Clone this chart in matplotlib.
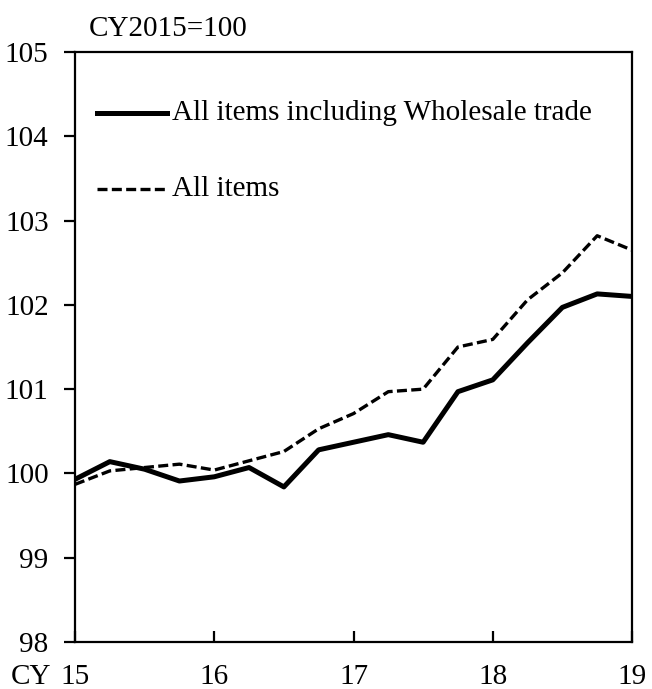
import matplotlib
matplotlib.use("Agg")
import matplotlib.pyplot as plt
from matplotlib.lines import Line2D

plt.rcParams['font.family'] = ['Liberation Serif', 'DejaVu Serif']

# Quarterly index, CY2015 Q1 .. CY2019 Q1 (x in years)
quarters = [2015 + i * 0.25 for i in range(17)]
incl_wholesale = [99.93, 100.14, 100.05, 99.91, 99.96, 100.07, 99.84, 100.28,
                  100.37, 100.46, 100.37, 100.97, 101.11, 101.55, 101.97, 102.13, 102.10]
all_items = [99.87, 100.03, 100.07, 100.11, 100.04, 100.15, 100.26, 100.53,
             100.71, 100.97, 101.00, 101.50, 101.59, 102.06, 102.38, 102.82, 102.65]

year_ticks = [2015, 2016, 2017, 2018, 2019]
year_labels = ["15", "16", "17", "18", "19"]
y_ticks = [98, 99, 100, 101, 102, 103, 104, 105]

label_solid = "All items including Wholesale trade"
label_dash = "All items"
unit_text = "CY2015=100"

FS = 21
W, H = 652, 689
fig = plt.figure(figsize=(W / 100, H / 100), dpi=100)
ax = fig.add_axes([75 / W, 1 - 642 / H, (632 - 75) / W, (642 - 52) / H])

dash = (0, (3.0, 1.3))
ax.plot(quarters, incl_wholesale, color='black', lw=3.6)
ax.plot(quarters, all_items, color='black', lw=2.4, linestyle=dash)

ax.set_xlim(2015, 2019)
ax.set_ylim(98, 105)
ax.set_xticks(year_ticks)
ax.set_xticklabels(year_labels)
ax.set_yticks(y_ticks)

for s in ax.spines.values():
    s.set_linewidth(1.6)
    s.set_color('black')

ax.tick_params(axis='x', direction='in', length=8, width=1.6, labelsize=FS, pad=15.5)
ax.tick_params(axis='y', direction='out', length=8, width=1.6, labelsize=FS, pad=11)

# "CY" prefix before the first year label, on the same baseline
fig.canvas.draw()
tl = ax.get_xticklabels()[0]
bb = tl.get_window_extent()
fig.text(51 / W, 0, "CY", ha='right', va='bottom', fontsize=FS,
         transform=fig.transFigure).set_y(bb.y0 / fig.bbox.height)
# unit note above the plot
fig.text(89 / W, 1 - 36 / H, unit_text, ha='left', va='baseline', fontsize=FS)

# legend drawn inside the axes
def legend_row(y_px, lw, ls, text):
    x0, x1 = (97 - 75) / (632 - 75), (167 - 75) / (632 - 75)
    yy = (642 - y_px) / (642 - 52)
    ax.add_line(Line2D([x0, x1], [yy, yy], transform=ax.transAxes, color='black',
                       lw=lw, linestyle=ls))
    ax.text((172 - 75) / (632 - 75), yy, text, transform=ax.transAxes,
            ha='left', va='center', fontsize=FS)

legend_row(113, 3.6, '-', label_solid)
legend_row(189, 2.4, dash, label_dash)

fig.savefig("out.png", dpi=100)
